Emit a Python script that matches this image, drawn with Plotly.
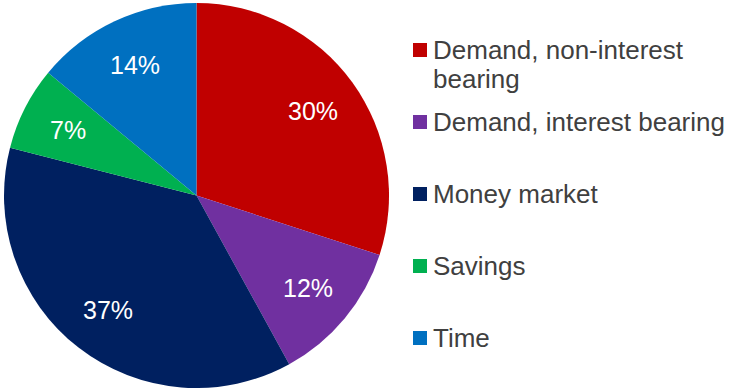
import math
import plotly.graph_objects as go

labels = ["Demand, non-interest<br>bearing", "Demand, interest bearing", "Money market", "Savings", "Time"]
values = [30, 12, 37, 7, 14]
colors = ["#C00000", "#7030A0", "#002060", "#00B050", "#0070C0"]

W, H = 732, 388
FONT = "Arial, Liberation Sans, sans-serif"

# pie placement (pixels)
PX0, PX1, PY0, PY1 = 4, 389, 3, 388
fig = go.Figure(go.Pie(
    labels=labels,
    values=values,
    sort=False,
    direction="clockwise",
    rotation=0,
    marker=dict(colors=colors, line=dict(width=0)),
    textinfo="none",
    hoverinfo="label+value",
    showlegend=False,
    domain=dict(x=[PX0 / W, PX1 / W], y=[1 - PY1 / H, 1 - PY0 / H]),
))

shapes, annotations = [], []

# percentage labels placed at each slice's mid-angle
cx, cy0 = (PX0 + PX1) / 2, (PY0 + PY1) / 2
R = (PX1 - PX0) / 2
frac = 0.75
total = sum(values)
cum = 0
for v in values:
    mid = (cum + v / 2) / total * 2 * math.pi
    cum += v
    px = cx + frac * R * math.sin(mid)
    py = cy0 - frac * R * math.cos(mid)
    annotations.append(dict(text=f"{v}%", xref="paper", yref="paper",
                            x=px / W, y=1 - py / H, xanchor="center", yanchor="middle",
                            showarrow=False,
                            font=dict(family=FONT, size=25, color="white")))

# custom legend
for i, (lab, col) in enumerate(zip(labels, colors)):
    ly = 50 + 72 * i
    shapes.append(dict(type="rect", xref="paper", yref="paper",
                       x0=413 / W, x1=427 / W,
                       y0=1 - (ly + 7) / H, y1=1 - (ly - 7) / H,
                       fillcolor=col, line=dict(width=0)))
    for j, line in enumerate(lab.split("<br>")):
        annotations.append(dict(text=line, xref="paper", yref="paper",
                                x=431 / W, y=1 - (ly + 29 * j) / H,
                                xanchor="left", yanchor="middle",
                                showarrow=False,
                                font=dict(family=FONT, size=26, color="#404040")))

fig.update_layout(
    width=W, height=H,
    margin=dict(l=0, r=0, t=0, b=0),
    paper_bgcolor="white",
    plot_bgcolor="white",
    shapes=shapes,
    annotations=annotations,
)

fig.write_html("out.html")
